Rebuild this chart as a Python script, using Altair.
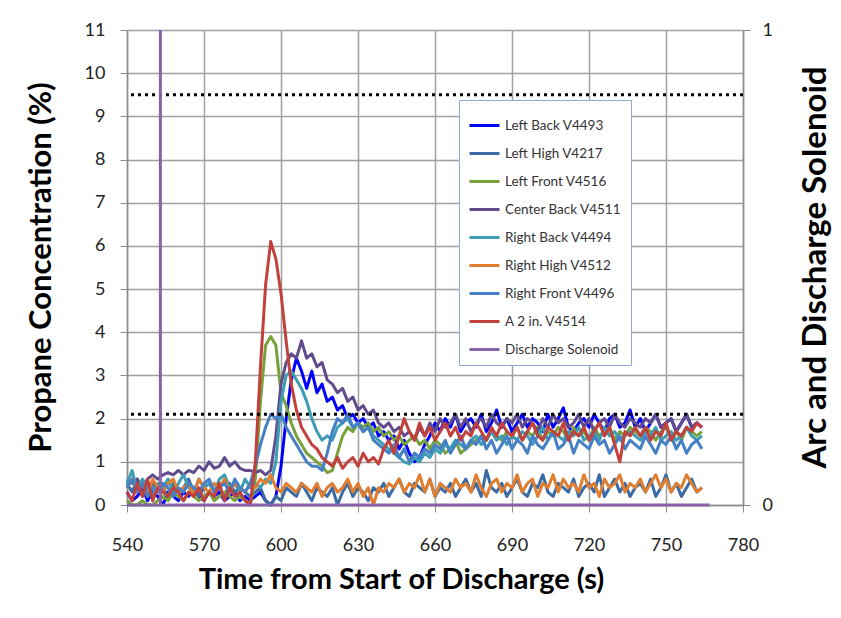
import altair as alt
import pandas as pd

FONT = "Lato"
T0 = 540
DT = 2

series_names = [
    "Left Back V4493", "Left High V4217", "Left Front V4516", "Center Back V4511",
    "Right Back V4494", "Right High V4512", "Right Front V4496", "A 2 in. V4514",
    "Discharge Solenoid",
]
series_colors = [
    "#0000FF", "#3A6BA5", "#77A13B", "#604B8C",
    "#3C9DB5", "#E07D2E", "#4580C6", "#C3413C",
    "#8763A8",
]

# values every 2 s starting at 540 s
left_back = [0.3,0.1,0.2,0.4,0.1,0.3,0.2,0.0,0.3,0.2,0.1,0.3,0.2,0.4,0.2,0.1,0.3,0.2,0.3,0.1,0.2,0.3,0.1,0.2,0.1,
             0.2,0.3,0.1,0.0,0.2,0.9,2.0,2.9,3.4,3.1,2.7,3.1,2.6,2.8,2.4,2.5,2.2,2.3,2.0,2.1,1.9,2.0,1.8,1.9,1.6,
             1.7,1.5,1.6,1.3,1.5,1.2,1.0,1.1,1.4,1.6,1.9,1.7,2.0,1.8,2.1,1.7,1.9,2.0,1.8,2.1,1.7,1.9,2.2,1.8,2.0,
             1.7,1.9,2.1,1.8,2.0,1.9,1.7,2.1,1.8,2.0,2.25,1.8,1.7,1.9,2.0,1.8,2.1,1.9,1.7,2.0,2.1,1.8,1.9,2.2,1.8,
             2.0,1.7,1.9,2.1,1.8,1.9,2.0,1.7,1.9,2.1,1.8,1.9,1.8]
left_high = [0.5,0.3,0.6,0.2,0.4,0.5,0.3,0.4,0.2,0.5,0.3,0.4,0.6,0.3,0.2,0.4,0.5,0.3,0.4,0.2,0.5,0.3,0.4,0.3,0.2,
             0.3,0.4,0.1,0.0,0.2,0.1,0.4,0.3,0.2,0.5,0.3,0.1,0.4,0.3,0.2,0.4,0.0,0.3,0.5,0.2,0.4,0.3,0.1,0.4,0.3,
             0.5,0.2,0.4,0.6,0.3,0.2,0.5,0.4,0.3,0.6,0.2,0.4,0.3,0.5,0.2,0.4,0.6,0.3,0.5,0.2,0.8,0.4,0.3,0.5,0.2,
             0.4,0.6,0.3,0.2,0.5,0.4,0.7,0.3,0.2,0.5,0.4,0.3,0.6,0.2,0.4,0.5,0.3,0.7,0.2,0.4,0.6,0.3,0.5,0.2,0.4,
             0.5,0.3,0.6,0.2,0.4,0.7,0.3,0.5,0.2,0.4,0.6,0.3,0.4]
left_front = [0.1,0.0,0.0,0.1,0.0,0.0,0.1,0.2,0.1,0.3,0.2,0.1,0.3,0.2,0.1,0.2,0.3,0.1,0.2,0.3,0.2,0.1,0.2,0.1,0.0,
              0.6,2.4,3.7,3.9,3.7,2.6,2.3,1.9,1.6,1.4,1.2,1.1,1.0,0.9,0.75,0.8,1.2,1.6,1.8,1.7,1.9,1.8,1.9,1.7,1.8,
              1.6,1.7,1.5,1.6,1.4,1.5,1.6,1.4,1.5,1.3,1.5,1.4,1.2,1.3,1.5,1.2,1.3,1.4,1.5,1.6,1.5,1.7,1.6,1.5,1.7,
              1.6,1.8,1.5,1.7,1.6,1.8,1.5,1.7,1.6,1.8,1.7,1.5,1.8,1.6,1.7,1.5,1.8,1.6,1.7,1.8,1.5,1.7,1.6,1.8,1.7,
              1.6,1.8,1.7,1.5,1.7,1.8,1.6,1.7,1.5,1.8,1.7,1.6,1.7]
center_back = [0.6,0.5,0.6,0.4,0.6,0.7,0.6,0.7,0.75,0.7,0.8,0.7,0.8,0.75,0.9,0.8,1.0,0.85,0.9,1.1,0.9,1.0,0.85,0.8,0.8,
               0.75,0.8,0.7,0.8,1.6,2.8,3.3,3.5,3.4,3.8,3.4,3.5,3.2,3.3,2.9,2.8,2.6,2.7,2.4,2.5,2.2,2.3,2.1,2.2,1.9,
               1.8,1.9,1.7,1.8,1.6,1.7,1.5,1.8,1.6,1.9,1.7,2.0,1.8,1.9,2.1,1.8,2.0,1.7,1.9,2.0,1.8,2.1,1.9,1.8,2.0,
               1.9,2.1,1.8,2.0,1.9,1.7,2.0,1.8,2.1,1.9,2.0,1.8,1.9,2.1,1.8,2.0,1.7,1.9,2.0,1.8,2.1,1.9,1.8,2.0,1.9,
               1.8,2.0,1.9,2.1,1.8,1.9,2.0,1.7,1.9,2.1,1.8,1.9,1.8]
right_back = [0.5,0.8,0.3,0.6,0.4,0.2,0.5,0.4,0.6,0.3,0.5,0.7,0.4,0.3,0.6,0.4,0.5,0.3,0.6,0.7,0.4,0.5,0.3,0.6,0.4,
              0.5,0.4,0.6,0.5,1.0,2.4,3.0,3.1,2.9,2.7,2.4,2.0,1.7,1.5,1.6,1.5,1.8,1.9,2.0,1.8,1.9,1.7,1.8,1.6,1.5,
              1.4,1.3,1.2,1.1,1.0,0.95,1.1,1.0,1.2,1.1,1.3,1.2,1.4,1.3,1.5,1.4,1.3,1.5,1.6,1.4,1.5,1.7,1.5,1.6,1.4,
              1.6,1.5,1.7,1.6,1.4,1.6,1.8,1.5,1.7,1.6,1.5,1.7,1.6,1.8,1.5,1.6,1.7,1.5,1.8,1.6,1.7,1.5,1.6,1.7,1.6,
              1.5,1.7,1.6,1.8,1.5,1.6,1.7,1.5,1.6,1.8,1.6,1.5,1.6]
right_high = [0.4,0.6,0.3,0.5,0.2,0.6,0.4,0.3,0.5,0.6,0.3,0.4,0.5,0.2,0.6,0.4,0.3,0.5,0.4,0.6,0.3,0.5,0.4,0.3,0.5,
              0.4,0.6,0.5,0.7,0.4,0.3,0.5,0.4,0.3,0.5,0.4,0.3,0.5,0.2,0.4,0.5,0.3,0.4,0.6,0.3,0.5,0.2,0.4,0.0,0.4,
              0.3,0.5,0.4,0.6,0.3,0.5,0.4,0.7,0.3,0.6,0.2,0.5,0.4,0.3,0.6,0.4,0.5,0.3,0.7,0.4,0.2,0.5,0.6,0.3,0.5,
              0.4,0.7,0.3,0.5,0.6,0.2,0.5,0.4,0.7,0.3,0.6,0.4,0.5,0.3,0.7,0.4,0.5,0.2,0.6,0.4,0.5,0.7,0.3,0.5,0.4,
              0.6,0.3,0.5,0.7,0.4,0.6,0.3,0.5,0.4,0.7,0.5,0.3,0.4]
right_front = [0.4,0.6,0.3,0.5,0.2,0.4,0.3,0.5,0.4,0.2,0.4,0.3,0.5,0.4,0.3,0.5,0.6,0.3,0.4,0.5,0.3,0.6,0.4,0.3,0.5,
               0.9,1.4,1.8,2.1,2.0,2.1,1.8,1.6,1.4,1.2,1.0,0.9,0.9,0.8,1.2,1.7,2.0,1.9,2.1,1.8,1.9,1.7,1.8,1.5,1.4,
               1.3,1.2,1.4,1.1,1.3,1.0,1.2,1.1,1.3,1.2,1.4,1.3,1.5,1.2,1.4,1.6,1.3,1.5,1.4,1.6,1.3,1.5,1.2,1.4,1.6,
               1.3,1.5,1.4,1.2,1.6,1.4,1.3,1.5,1.7,1.3,1.4,1.6,1.2,1.5,1.4,1.3,1.6,1.4,1.5,1.2,1.4,1.6,1.3,1.5,1.4,
               1.3,1.6,1.4,1.2,1.5,1.4,1.6,1.3,1.5,1.2,1.4,1.5,1.3]
a_2in = [0.3,0.1,0.5,0.2,0.6,0.1,0.4,0.3,0.2,0.4,0.3,0.1,0.3,0.2,0.4,0.1,0.3,0.2,0.5,0.1,0.4,0.2,0.3,0.1,0.0,
         1.0,3.2,5.1,6.1,5.7,4.9,3.8,2.8,2.2,1.8,1.6,1.4,1.3,1.1,1.0,0.9,1.1,0.85,1.0,1.1,0.9,1.2,1.0,1.1,0.95,
         1.3,1.5,1.2,1.6,2.0,1.7,1.5,1.9,1.6,1.8,1.5,1.7,1.9,1.6,1.8,1.5,1.7,1.6,1.9,1.7,1.5,1.8,1.6,1.9,1.7,
         1.6,1.8,1.5,1.7,1.9,1.6,1.5,1.8,1.7,1.6,1.9,1.5,1.7,1.6,1.8,1.5,1.7,1.9,1.6,1.8,1.4,1.0,1.7,1.6,1.8,
         1.6,1.8,1.5,1.7,1.6,1.9,1.5,1.7,1.6,1.8,1.7,1.9,1.8]

solenoid_t = [540, 553, 553, 553, 767]
solenoid_v = [0, 0, 1, 0, 0]

thresholds = [9.5, 2.1]
x_ticks = list(range(540, 781, 30))
y_ticks = list(range(0, 12))

series_values = [left_back, left_high, left_front, center_back,
                 right_back, right_high, right_front, a_2in]

rows = []
for name, vals in zip(series_names, series_values):
    for i, v in enumerate(vals):
        rows.append({"t": T0 + DT * i, "v": v, "series": name, "i": i})
df = pd.DataFrame(rows)
sol_df = pd.DataFrame({"t": solenoid_t, "v": solenoid_v,
                       "series": series_names[-1], "i": list(range(len(solenoid_t)))})
thr_df = pd.DataFrame({"y": thresholds})

x_enc = alt.X("t:Q", scale=alt.Scale(domain=[540, 780], nice=False, zero=False),
              axis=alt.Axis(values=x_ticks, title="Time from Start of Discharge (s)",
                            labelFlush=False, titleX=274, titleY=60, titleFontSize=29))
color_enc = alt.Color("series:N",
                      scale=alt.Scale(domain=series_names, range=series_colors),
                      legend=alt.Legend(title=None, orient="none", legendX=332, legendY=70,
                                        symbolType="stroke", symbolSize=900, symbolStrokeWidth=3,
                                        labelFontSize=13.5, labelFont=FONT, labelColor="#333333",
                                        padding=9, rowPadding=5, labelOffset=4,
                                        fillColor="white", strokeColor="#8EAAD2"))
y_left = alt.Y("v:Q", scale=alt.Scale(domain=[0, 11], nice=False, zero=True),
               axis=alt.Axis(values=y_ticks, title="Propane Concentration (%)", orient="left",
                             titleX=-70, titleY=237, titleFontSize=31, titleBaseline="bottom",
                             labelPadding=15))

layers = []
for name in series_names[:-1]:
    layers.append(
        alt.Chart(df).transform_filter(alt.datum.series == name)
        .mark_line(strokeWidth=3, strokeJoin="round")
        .encode(x=x_enc, y=y_left, color=color_enc, order="i:Q")
    )
rules = alt.Chart(thr_df).mark_rule(color="black", strokeWidth=3, strokeDash=[3, 4]).encode(
    y=alt.Y("y:Q", scale=alt.Scale(domain=[0, 11], nice=False))
)
left = alt.layer(*layers, rules)

sol = alt.Chart(sol_df).mark_line(strokeWidth=3).encode(
    x=x_enc,
    y=alt.Y("v:Q", scale=alt.Scale(domain=[0, 1], nice=False),
            axis=alt.Axis(values=[0, 1], format="d", orient="right", grid=False,
                          title="Arc and Discharge Solenoid", titleAngle=-90,
                          titleX=89, titleY=237, titleFontSize=33, titleBaseline="bottom",
                          labelPadding=12)),
    color=color_enc,
    order="i:Q",
)

chart = alt.layer(left, sol).resolve_scale(y="independent").properties(
    width=616, height=475,
    autosize=alt.AutoSizeParams(type="none"),
    padding={"left": 119, "top": 22, "right": 90, "bottom": 105},
).configure_view(stroke="#9DB7DA", strokeWidth=1).configure_axis(
    labelFont=FONT, titleFont=FONT, labelFontSize=18, labelColor="#222222",
    titleColor="#000000", titleFontWeight="bold",
    grid=True, gridColor="#A0A0A0", gridWidth=1.5,
    domainColor="#8C8C8C", tickColor="#8C8C8C", tickSize=7, domainWidth=1.5,
).configure_axisX(labelPadding=24).configure_axisRight(grid=False)

chart.save("out.html", embed_options={"renderer": "svg", "actions": False})
